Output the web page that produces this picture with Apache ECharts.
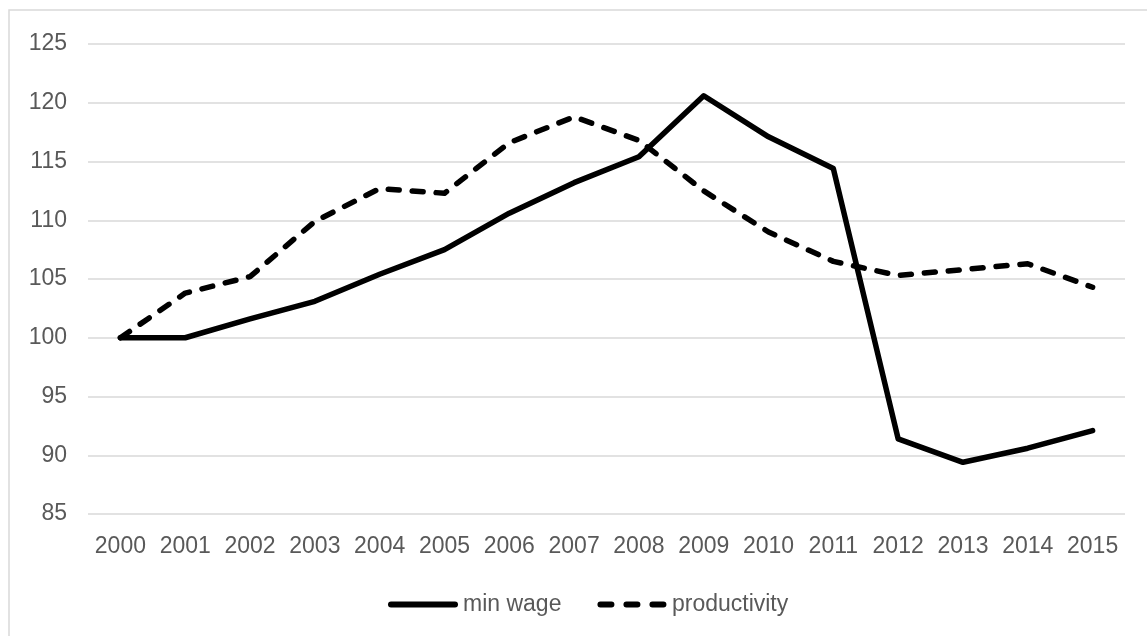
<!DOCTYPE html>
<html>
<head>
<meta charset="utf-8">
<script src="https://cdn.jsdelivr.net/npm/echarts@6/dist/echarts.min.js"></script>
<style>
html,body{margin:0;padding:0;background:#fff;}
#chart{width:1147px;height:636px;}
</style>
</head>
<body>
<div id="chart"></div>
<script>
var years = ['2000','2001','2002','2003','2004','2005','2006','2007','2008','2009','2010','2011','2012','2013','2014','2015'];
var minWage = [100.0, 100.0, 101.6, 103.1, 105.4, 107.5, 110.6, 113.2, 115.4, 120.6, 117.1, 114.4, 91.4, 89.4, 90.6, 92.1];
var productivity = [100.0, 103.8, 105.2, 109.9, 112.7, 112.3, 116.6, 118.8, 116.8, 112.5, 109.0, 106.5, 105.3, 105.8, 106.3, 104.3];
var yTicks = {min: 85, max: 125, interval: 5};

var textColor = '#595959';
var font = 'Liberation Sans, Arial, sans-serif';
var solidIcon = 'path://M3,0h64a3,3 0 0 1 0,6h-64a3,3 0 0 1 0,-6z';
var dashIcon = 'path://M3,0h11a3,3 0 0 1 0,6h-11a3,3 0 0 1 0,-6z M29,0h11a3,3 0 0 1 0,6h-11a3,3 0 0 1 0,-6z M55,0h11a3,3 0 0 1 0,6h-11a3,3 0 0 1 0,-6z';
var chart = echarts.init(document.getElementById('chart'));
chart.setOption({
  animation: false,
  backgroundColor: '#fff',
  graphic: [{
    type: 'rect', z: -10,
    shape: {x: 9, y: 10, width: 1300, height: 800},
    style: {fill: 'none', stroke: '#d9d9d9', lineWidth: 1.5}
  }],
  grid: {left: 88, right: 22, top: 44, bottom: 122, containLabel: false},
  legend: {
    left: 383, top: 588,
    itemWidth: 70, itemHeight: 6, itemGap: 36,
    textStyle: {color: textColor, fontSize: 23, fontFamily: font},
    itemStyle: {color: '#000', borderWidth: 0},
    data: [{name: 'min wage', icon: solidIcon}, {name: 'productivity', icon: dashIcon}]
  },
  xAxis: {
    type: 'category', data: years, boundaryGap: true,
    axisLine: {show: false}, axisTick: {show: false},
    axisLabel: {color: textColor, fontSize: 23, fontFamily: font, margin: 21, interval: 0}
  },
  yAxis: {
    type: 'value', min: yTicks.min, max: yTicks.max, interval: yTicks.interval,
    axisLine: {show: false}, axisTick: {show: false},
    axisLabel: {color: textColor, fontSize: 23, fontFamily: font, margin: 21},
    splitLine: {lineStyle: {color: '#d9d9d9', width: 1.5}}
  },
  series: [{
    name: 'min wage', type: 'line', data: minWage, symbol: 'none',
    lineStyle: {color: '#000', width: 5.5, join: 'round', cap: 'round'},
    itemStyle: {color: '#000'}
  }, {
    name: 'productivity', type: 'line', data: productivity, symbol: 'none',
    lineStyle: {color: '#000', width: 5.5, type: [11, 13], join: 'round', cap: 'round'},
    itemStyle: {color: '#000'}
  }]
});
</script>
</body>
</html>
